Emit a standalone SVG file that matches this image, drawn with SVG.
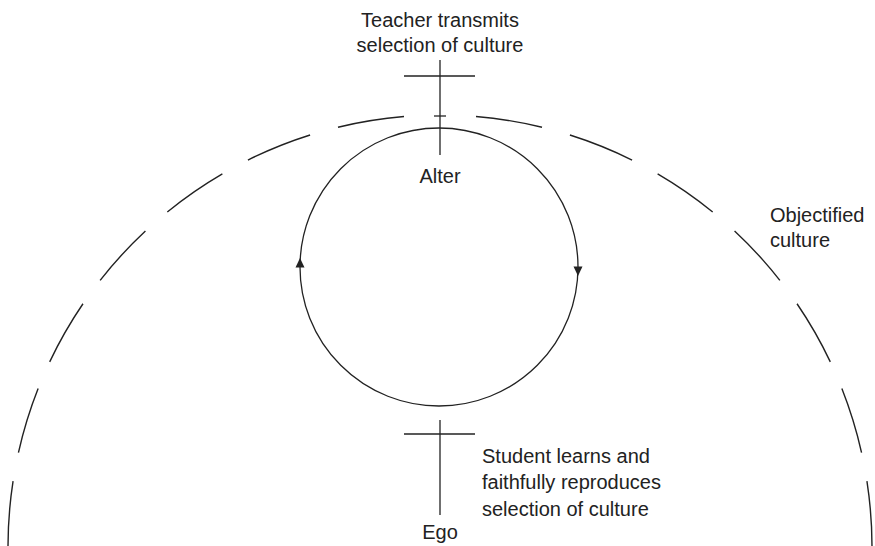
<svg xmlns="http://www.w3.org/2000/svg" width="875" height="546" viewBox="0 0 875 546">
  <style>
    .ln { fill: none; stroke: #222; stroke-width: 1.3; }
    .dash { fill: none; stroke: #222; stroke-width: 1.4; stroke-dasharray: 67 29; }
    .lbl { font-family: "Liberation Sans", Arial, Helvetica, sans-serif; font-size: 20px; fill: #222; }
    .head { fill: #222; stroke: none; }
  </style>
  <rect width="875" height="546" fill="#fff"/>

  <!-- Objectified culture: large dashed half-circle -->
  <g id="objectified-culture">
    <path class="dash" d="M 476 116.5 A 432 432 0 0 1 872 547"/>
    <path class="dash" d="M 404 116.5 A 432 432 0 0 0 8 547"/>
    <text class="lbl" x="770" y="222">Objectified</text>
    <text class="lbl" x="770" y="247">culture</text>
  </g>

  <!-- Alter (teacher) -->
  <g id="alter">
    <line class="ln" x1="440" y1="60" x2="440" y2="155"/>
    <line class="ln" x1="404" y1="76" x2="475" y2="76"/>
    <line class="ln" x1="434" y1="116" x2="446" y2="116"/>
    <text class="lbl" x="440" y="27" text-anchor="middle">Teacher transmits</text>
    <text class="lbl" x="440" y="52" text-anchor="middle">selection of culture</text>
    <text class="lbl" x="440" y="183" text-anchor="middle">Alter</text>
  </g>

  <!-- Ego (student) -->
  <g id="ego">
    <line class="ln" x1="440" y1="420" x2="440" y2="515"/>
    <line class="ln" x1="404" y1="434" x2="475" y2="434"/>
    <text class="lbl" x="440" y="539" text-anchor="middle">Ego</text>
    <text class="lbl" x="482" y="463">Student learns and</text>
    <text class="lbl" x="482" y="489">faithfully reproduces</text>
    <text class="lbl" x="482" y="516">selection of culture</text>
  </g>

  <!-- Transmission cycle between alter and ego -->
  <g id="connectors">
    <circle class="ln" cx="439" cy="267" r="139"/>
    <polygon class="head" points="300,258 295.5,267.5 304.5,267.5"/>
    <polygon class="head" points="578,276 573.5,266.5 582.5,266.5"/>
  </g>
</svg>
